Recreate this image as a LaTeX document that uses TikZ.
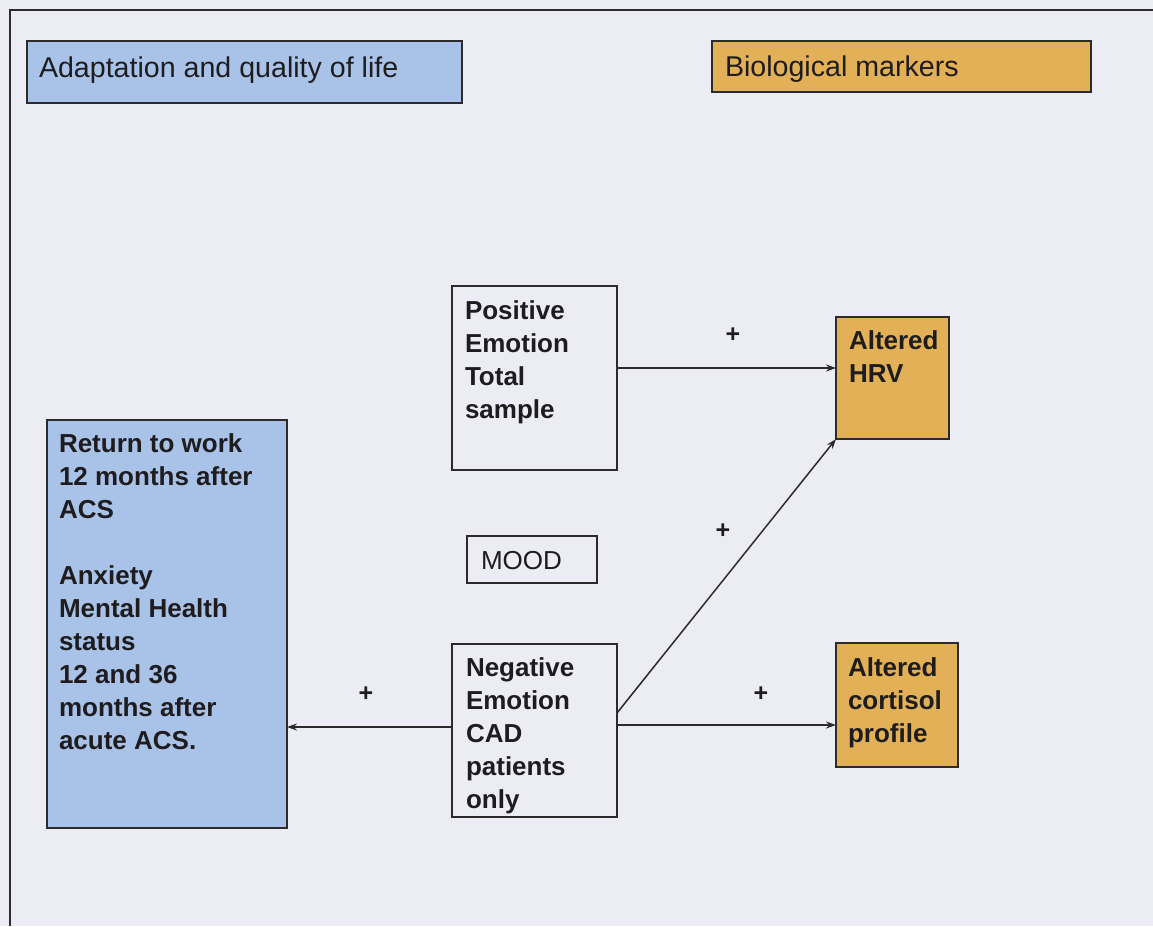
\documentclass[tikz,border=0pt]{standalone}
\usepackage{fontspec}
\setmainfont{Liberation Sans}
\usetikzlibrary{arrows.meta,calc}
\definecolor{bgc}{RGB}{236,236,245}
\definecolor{bluef}{RGB}{169,194,232}
\definecolor{orangef}{RGB}{226,176,86}
\definecolor{linec}{RGB}{45,42,45}
\definecolor{txtc}{RGB}{30,28,30}
\begin{document}
\begin{tikzpicture}[x=1pt,y=-1pt,
  box/.style={draw=linec,line width=1.6pt,inner sep=0pt,outer sep=0pt,anchor=north west},
  bluebox/.style={box,fill=bluef},
  orangebox/.style={box,fill=orangef},
  plainbox/.style={box},
  txt/.style={anchor=north west,inner sep=0pt,outer sep=0pt,align=left,text=txtc,
    font=\fontsize{26}{33}\selectfont\bfseries},
  ltxt/.style={anchor=north west,inner sep=0pt,outer sep=0pt,align=left,text=txtc,
    font=\fontsize{26}{33}\selectfont},
  htxt/.style={anchor=north west,inner sep=0pt,outer sep=0pt,align=left,text=txtc,
    font=\fontsize{28.6}{34}\selectfont},
  plus/.style={inner sep=0pt,text=txtc,font=\fontsize{25}{25}\selectfont\bfseries},
  arr/.style={draw=linec,line width=1.5pt,-{Stealth[length=10pt,width=7pt]}}]
\fill[bgc] (0,0) rectangle (1153,926);
\useasboundingbox (0,0) rectangle (1153,926);
% frame
\coordinate (ftr) at (1153,10);
\coordinate (ftl) at (10,10);
\coordinate (fbl) at (10,926);
\draw[linec,line width=1.5pt] (ftr) -- (ftl) -- (fbl);
% top headers
\node[bluebox,minimum width=435,minimum height=62] (adapt) at (27,41) {};
\node[htxt] (adaptt) at (39,57) {Adaptation and quality of life};
\node[orangebox,minimum width=379,minimum height=51] (bio) at (712,41) {};
\node[htxt] (biot) at (725,56) {Biological markers};
% boxes
\node[plainbox,minimum width=165,minimum height=184] (pos) at (452,286) {};
\node[txt] (post) at (465,301) {Positive\\Emotion\\Total\\sample};
\node[orangebox,minimum width=113,minimum height=122] (hrv) at (836,317) {};
\node[txt] (hrvt) at (849,331) {Altered\\HRV};
\node[bluebox,minimum width=240,minimum height=408] (ret) at (47,420) {};
\node[txt] (rett) at (59,434) {Return to work\\12 months after\\ACS\\[33pt]Anxiety\\Mental Health\\status\\12 and 36\\months after\\acute ACS.};
\node[plainbox,minimum width=130,minimum height=47] (mood) at (467,536) {};
\node[ltxt] (moodt) at (481,551) {MOOD};
\node[plainbox,minimum width=165,minimum height=173] (neg) at (452,644) {};
\node[txt] (negt) at (466,658) {Negative\\Emotion\\CAD\\patients\\only};
\node[orangebox,minimum width=122,minimum height=124] (cort) at (836,643) {};
\node[txt] (cortt) at (848,658) {Altered\\cortisol\\profile};
% connectors
\draw[arr] (pos.east |- 0,368) -- (hrv.west |- 0,368);
\draw[arr] (neg.east |- 0,713) -- (hrv.south west);
\draw[arr] (neg.east |- 0,725) -- (cort.west |- 0,725);
\draw[arr] (neg.west |- 0,727) -- (ret.east |- 0,727);
% signs
\node[plus] (p1) at (733,335) {+};
\node[plus] (p2) at (723,531) {+};
\node[plus] (p3) at (761,694) {+};
\node[plus] (p4) at (366,694) {+};
\end{tikzpicture}
\end{document}
